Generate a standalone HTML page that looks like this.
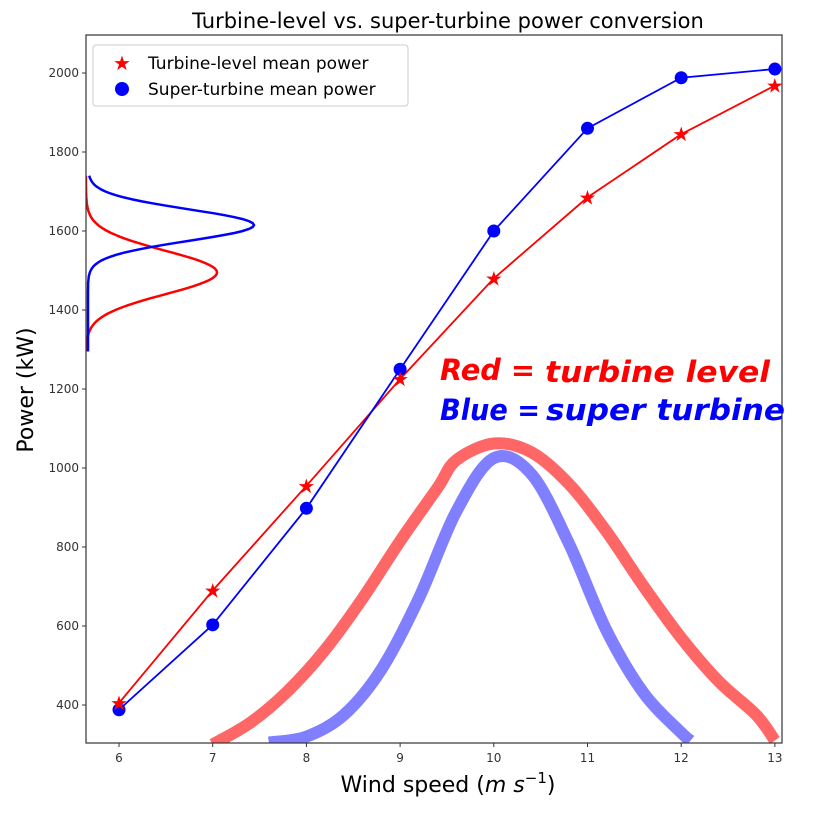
<!DOCTYPE html>
<html><head><meta charset="utf-8"><style>
body{margin:0;background:#fff;}
svg text{font-family:"DejaVu Sans","Liberation Sans",sans-serif;}
</style></head><body>
<svg id="chart" width="823" height="809" xmlns="http://www.w3.org/2000/svg">
<text x="448" y="28" font-size="21" text-anchor="middle">Turbine-level vs. super-turbine power conversion</text>
<g id="plot"></g>
<rect x="86" y="35" width="696" height="708" fill="none" stroke="#333" stroke-width="1.2"/>
<g id="xticks" font-size="12" fill="#333"></g>
<g id="yticks" font-size="12" fill="#333"></g>
<text x="448" y="792" font-size="22" text-anchor="middle">Wind speed (<tspan font-style="italic">m s</tspan><tspan font-size="15" dy="-9">−1</tspan><tspan dy="9">)</tspan></text>
<text transform="translate(33,390) rotate(-90)" font-size="22" text-anchor="middle">Power (kW)</text>
<g>
<rect x="93" y="45" width="315" height="61" rx="3" fill="#fff" stroke="#ccc"/>
<text x="122" y="70" font-size="20" fill="red" text-anchor="middle">★</text>
<text x="148" y="69" font-size="17">Turbine-level mean power</text>
<circle cx="122" cy="89" r="7" fill="blue"/>
<text x="148" y="95" font-size="17">Super-turbine mean power</text>
</g>
<text x="440" y="380" font-size="29" font-weight="bold" font-style="italic" fill="red" textLength="95" lengthAdjust="spacingAndGlyphs">Red =</text>
<text x="545" y="382" font-size="29" font-weight="bold" font-style="italic" fill="red" textLength="225" lengthAdjust="spacingAndGlyphs">turbine level</text>
<text x="440" y="420" font-size="29" font-weight="bold" font-style="italic" fill="blue" textLength="100" lengthAdjust="spacingAndGlyphs">Blue =</text>
<text x="546" y="420" font-size="29" font-weight="bold" font-style="italic" fill="blue" textLength="239" lengthAdjust="spacingAndGlyphs">super turbine</text>
</svg>
<script>
const windSpeeds=[6,7,8,9,10,11,12,13];
const turbinePower=[405,690,955,1225,1480,1685,1845,1968];
const superPower=[388,603,898,1250,1600,1860,1988,2010];
const xTickLabels=[6,7,8,9,10,11,12,13];
const yTickLabels=[400,600,800,1000,1200,1400,1600,1800,2000];
const redBandX=[7.0,7.4,7.8,8.2,8.6,9.0,9.4,9.6,10.0,10.4,10.8,11.2,11.6,12.0,12.4,12.8,13.0];
const redBandY=[300,355,435,540,670,815,950,1020,1062,1040,960,840,700,570,460,375,310];
const blueBandX=[7.6,8.0,8.4,8.8,9.2,9.6,10.0,10.4,10.8,11.2,11.6,12.0,12.1];
const blueBandY=[305,320,375,490,670,890,1025,985,810,590,430,330,310];
const redDensity=[1495,55,131];
const blueDensity=[1615,40,166];
const NS="http://www.w3.org/2000/svg";
const sx=v=>119+(v-6)*93.7;
const sy=v=>705-(v-400)*0.395;
const plot=document.getElementById('plot');
function mk(t,a,p){const e=document.createElementNS(NS,t);for(const k in a)e.setAttribute(k,a[k]);(p||plot).appendChild(e);return e;}
const clip=mk('clipPath',{id:'c'});mk('rect',{x:86,y:35,width:696,height:708},clip);
const g=mk('g',{'clip-path':'url(#c)'});
function pl(xs,ys){return xs.map((x,i)=>sx(x).toFixed(1)+','+sy(ys[i]).toFixed(1)).join(' ');}
function smooth(xs,ys){const P=xs.map((x,i)=>[sx(x),sy(ys[i])]);let d='M'+P[0][0]+','+P[0][1];
for(let i=0;i<P.length-1;i++){const p0=P[Math.max(i-1,0)],p1=P[i],p2=P[i+1],p3=P[Math.min(i+2,P.length-1)];
const c1=[p1[0]+(p2[0]-p0[0])/6,p1[1]+(p2[1]-p0[1])/6],c2=[p2[0]-(p3[0]-p1[0])/6,p2[1]-(p3[1]-p1[1])/6];
d+=' C'+c1.join(',')+' '+c2.join(',')+' '+p2.join(',');}return d;}
let e=mk('path',{d:smooth(redBandX,redBandY),fill:'none',stroke:'rgba(255,0,0,0.6)','stroke-width':12},g);

e=mk('path',{d:smooth(blueBandX,blueBandY),fill:'none',stroke:'rgba(0,0,255,0.5)','stroke-width':12},g);

function dens(d,base,col,name){let pts=[];for(let p=1295;p<=1740;p+=5){const x=base+d[2]*Math.exp(-Math.pow(p-d[0],2)/(2*d[1]*d[1]));pts.push(x.toFixed(1)+','+sy(p).toFixed(1));}
const el=mk('polyline',{points:pts.join(' '),fill:'none',stroke:col,'stroke-width':2.5},g);
}
dens(redDensity,86,'red','turbine-density-curve');
dens(blueDensity,88,'blue','super-turbine-density-curve');
e=mk('polyline',{points:pl(windSpeeds,turbinePower),fill:'none',stroke:'red','stroke-width':1.8},g);

e=mk('polyline',{points:pl(windSpeeds,superPower),fill:'none',stroke:'blue','stroke-width':1.8},g);

windSpeeds.forEach((w,i)=>{
 const c=mk('circle',{cx:sx(w),cy:sy(superPower[i]),r:6.5,fill:'blue'},g);
 
 const s=mk('text',{x:sx(w),y:sy(turbinePower[i])+7,'font-size':20,fill:'red','text-anchor':'middle'},g);s.textContent='★';
 
});
const xt=document.getElementById('xticks');
xTickLabels.forEach(v=>{mk('line',{x1:sx(v),x2:sx(v),y1:743,y2:747,stroke:'#333'},xt);
 const t=mk('text',{x:sx(v),y:762,'text-anchor':'middle'},xt);t.textContent=v;
 });
const yt=document.getElementById('yticks');
yTickLabels.forEach(v=>{mk('line',{x1:82,x2:86,y1:sy(v),y2:sy(v),stroke:'#333'},yt);
 const t=mk('text',{x:79,y:sy(v)+4,'text-anchor':'end'},yt);t.textContent=v;
 });
</script>
</body></html>
